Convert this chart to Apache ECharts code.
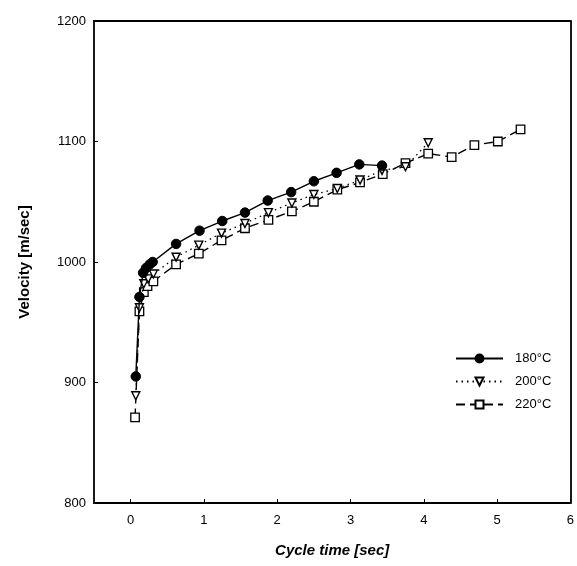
<!DOCTYPE html>
<html><head><meta charset="utf-8">
<script src="https://cdn.jsdelivr.net/npm/echarts@6/dist/echarts.min.js"></script>
<style>html,body{margin:0;padding:0;background:#fff}#c{width:577px;height:566px}</style>
</head><body><div id="c"></div>
<script>
var seriesNames = ['180\u00B0C', '200\u00B0C', '220\u00B0C'];
var t180 = [0.07, 0.12, 0.17, 0.21, 0.26, 0.30, 0.62, 0.94, 1.25, 1.56, 1.87, 2.19, 2.50, 2.81, 3.12, 3.43];
var v180 = [905, 971, 991, 995, 998, 1000, 1015, 1026, 1034, 1041, 1051, 1058, 1067, 1074, 1081, 1080];
var t200 = [0.07, 0.12, 0.18, 0.24, 0.31, 0.62, 0.93, 1.24, 1.56, 1.88, 2.20, 2.50, 2.82, 3.13, 3.43, 3.75, 4.06];
var v200 = [889, 962, 982, 986, 990, 1004, 1014, 1024, 1032, 1041, 1049, 1056, 1061, 1068, 1076, 1079, 1099];
var t220 = [0.06, 0.12, 0.18, 0.23, 0.31, 0.62, 0.93, 1.24, 1.56, 1.88, 2.20, 2.50, 2.82, 3.13, 3.44, 3.75, 4.06, 4.38, 4.69, 5.01, 5.32];
var v220 = [871, 959, 975, 980, 984, 998, 1007, 1018, 1028, 1035, 1042, 1050, 1060, 1066, 1073, 1082, 1090, 1087, 1097, 1100, 1110];
var xTicks = [0, 1, 2, 3, 4, 5, 6];
var yTicks = [800, 900, 1000, 1100, 1200];

function pairs(t, v) { return t.map(function (x, i) { return [x, v[i]]; }); }

var chart = echarts.init(document.getElementById('c'));
var font = 'Liberation Sans, Arial, sans-serif';
var axisLine = { show: true, onZero: false, lineStyle: { color: '#000', width: 1.8 } };
function plain(v) { return String(v); }
chart.setOption({
  animation: false,
  backgroundColor: '#fff',
  grid: { left: 94, right: 4, top: 21, bottom: 63, containLabel: false },
  legend: {
    orient: 'vertical', left: 455, top: 352, padding: 0, itemWidth: 47, itemHeight: 10, itemGap: 10,
    textStyle: { fontFamily: font, fontSize: 13, color: '#000', padding: [0, 0, 0, 7] },
    data: seriesNames
  },
  xAxis: [{
    type: 'value', min: -0.5, max: 6,
    name: 'Cycle time [sec]', nameLocation: 'middle', nameGap: 40,
    nameTextStyle: { fontFamily: font, fontSize: 15, fontWeight: 'bold', fontStyle: 'italic', color: '#000' },
    axisLine: axisLine,
    axisTick: { show: true, inside: true, length: 4, lineStyle: { color: '#000', width: 1 }, customValues: xTicks },
    axisLabel: { fontFamily: font, fontSize: 13, color: '#000', margin: 11, customValues: xTicks, formatter: plain },
    splitLine: { show: false }
  }, {
    type: 'value', position: 'top', min: -0.5, max: 6,
    axisLine: axisLine, axisTick: { show: false }, axisLabel: { show: false }, splitLine: { show: false }
  }],
  yAxis: [{
    type: 'value', min: 800, max: 1200,
    name: 'Velocity [m/sec]', nameLocation: 'middle', nameGap: 62,
    nameTextStyle: { fontFamily: font, fontSize: 15, fontWeight: 'bold', color: '#000' },
    axisLine: axisLine,
    axisTick: { show: true, inside: true, length: 4, lineStyle: { color: '#000', width: 1 }, customValues: yTicks },
    axisLabel: { fontFamily: font, fontSize: 13, color: '#000', margin: 8, customValues: yTicks, formatter: plain },
    splitLine: { show: false }
  }, {
    type: 'value', position: 'right', min: 800, max: 1200,
    axisLine: axisLine, axisTick: { show: false }, axisLabel: { show: false }, splitLine: { show: false }
  }],
  series: [{
    name: seriesNames[0], type: 'line', data: pairs(t180, v180),
    symbol: 'circle', symbolSize: 9.5, z: 4,
    lineStyle: { color: '#000', width: 1.4, type: 'solid' },
    itemStyle: { color: '#000', borderColor: '#000', borderWidth: 1 }
  }, {
    name: seriesNames[1], type: 'line', data: pairs(t200, v200),
    symbol: 'triangle', symbolRotate: 180, symbolSize: 8, z: 3,
    lineStyle: { color: '#000', width: 1.3, type: [1.5, 4] },
    itemStyle: { color: '#fff', borderColor: '#000', borderWidth: 1.4 }
  }, {
    name: seriesNames[2], type: 'line', data: pairs(t220, v220),
    symbol: 'rect', symbolSize: 8.5, z: 2,
    lineStyle: { color: '#000', width: 1.4, type: [9, 5] },
    itemStyle: { color: '#fff', borderColor: '#000', borderWidth: 1.3 }
  }]
});
</script></body></html>
